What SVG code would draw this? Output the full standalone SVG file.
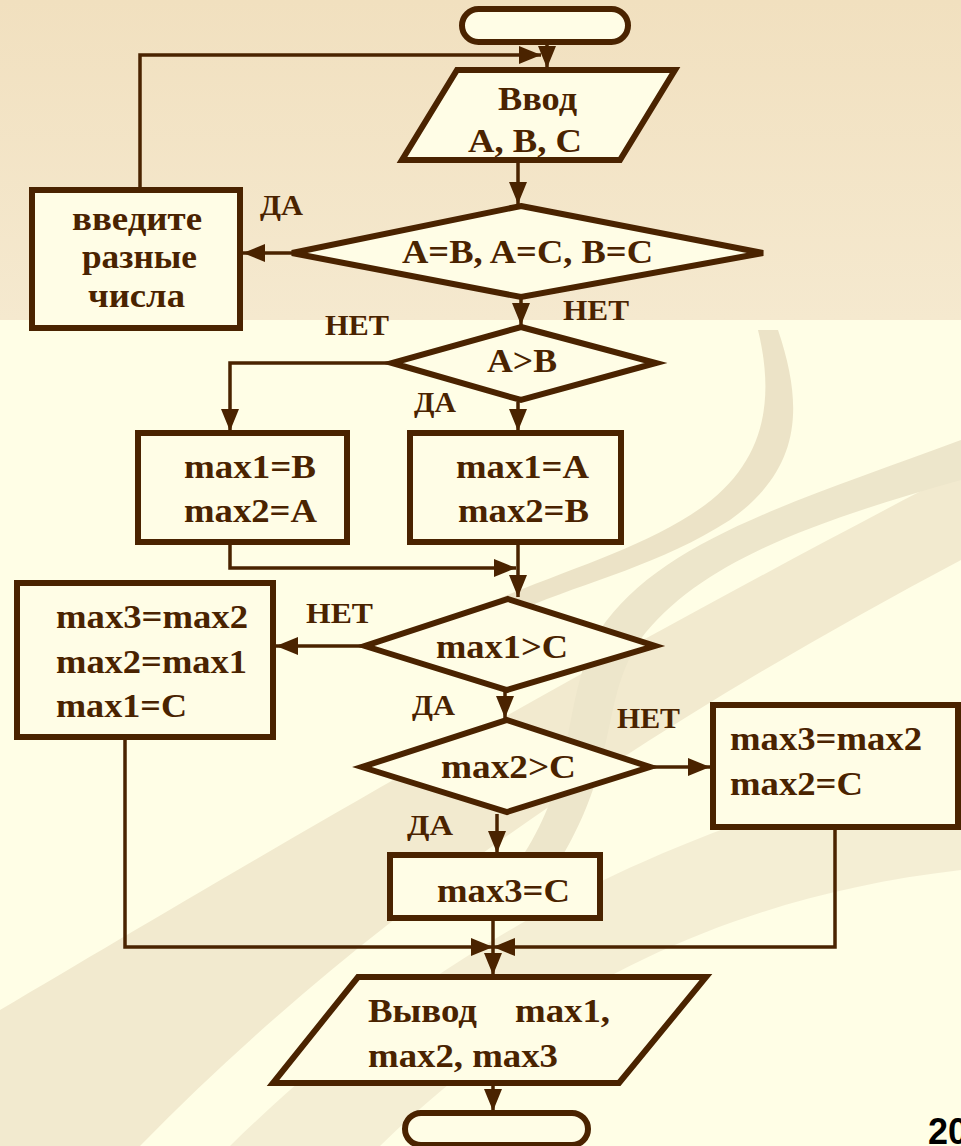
<svg xmlns="http://www.w3.org/2000/svg" width="961" height="1146" viewBox="0 0 961 1146">
<style>
.shape{fill:#fffde6;stroke:#4a2300;stroke-width:6;stroke-linejoin:miter}
.t{font-family:"Liberation Serif","Times New Roman",serif;font-weight:bold;font-size:34px;fill:#4a2300}
.lbl{font-family:"Liberation Serif","Times New Roman",serif;font-weight:bold;font-size:29px;fill:#4a2300}
.c{fill:none;stroke:#4a2300;stroke-width:3.5;marker-end:url(#ah)}
</style>
<defs>
<linearGradient id="topbg" x1="0" y1="0" x2="0" y2="1">
<stop offset="0" stop-color="#f1e0bf"/>
<stop offset="1" stop-color="#f5e9cf"/>
</linearGradient>
<marker id="ah" markerUnits="userSpaceOnUse" markerWidth="24" markerHeight="20" refX="22" refY="9" orient="auto">
<path d="M0,0 L22,9 L0,18 Z" fill="#4a2300"/>
</marker>
</defs>
<!-- background -->
<rect x="0" y="0" width="961" height="1146" fill="#fffee6"/>
<rect x="0" y="0" width="961" height="320" fill="url(#topbg)"/>
<g opacity="0.75">
<path d="M0,1146 L0,1010 C220,880 520,700 961,470 L961,560 C640,730 360,920 140,1146 Z" fill="#eee4c8"/>
<path d="M230,1146 C420,960 640,830 961,760 L961,870 C700,900 520,1010 380,1146 Z" fill="#f1e9cf"/>
<path d="M778,330 C805,410 800,470 730,520 C660,565 590,580 520,610 L500,598 C580,565 650,545 705,505 C765,460 775,400 758,330 Z" fill="#e6dbbd"/>
<path d="M961,480 C820,520 700,560 640,640 C600,700 620,760 560,860 L520,860 C580,770 560,700 600,630 C660,540 800,500 961,440 Z" fill="#e8dec2"/>
</g>
<!-- connectors -->
<g id="connectors">
<path class="c" d="M547,44 V68"/>
<path class="c" d="M140,188 V55 H541"/>
<path class="c" d="M518,162 V204"/>
<path class="c" d="M292,253 H243"/>
<path class="c" d="M521,299 V325"/>
<path class="c" d="M392,363 H230 V431"/>
<path class="c" d="M518,402 V431"/>
<path class="c" d="M230,544 V568 H516"/>
<path class="c" d="M518,544 V597"/>
<path class="c" d="M365,646 H276"/>
<path class="c" d="M505,692 V718"/>
<path class="c" d="M650,767 H710"/>
<path class="c" d="M497,814 V853"/>
<path class="c" d="M125,739 V947 H493"/>
<path class="c" d="M835,829 V947 H493"/>
<path class="c" d="M493,920 V975"/>
<path class="c" d="M493,1085 V1111"/>
</g>
<!-- nodes -->
<g id="start"><rect class="shape" x="462" y="9" width="166" height="33" rx="16.5"/></g>
<g id="input">
<polygon class="shape" points="457,70 675,70 620,160 402,160"/>
<text class="t" x="498" y="110" textLength="79" lengthAdjust="spacingAndGlyphs">Ввод</text>
<text class="t" x="468" y="152" textLength="114" lengthAdjust="spacingAndGlyphs">A, B, C</text>
</g>
<g id="cond-equal">
<polygon class="shape" points="521,206 763,253 521,297 292,253"/>
<text class="t" x="402" y="263" textLength="251" lengthAdjust="spacingAndGlyphs">A=B, A=C, B=C</text>
</g>
<g id="msg">
<rect class="shape" x="32" y="190" width="208" height="138"/>
<text class="t" x="72" y="230" textLength="130" lengthAdjust="spacingAndGlyphs">введите</text>
<text class="t" x="82" y="268" textLength="115" lengthAdjust="spacingAndGlyphs">разные</text>
<text class="t" x="88" y="307" textLength="97" lengthAdjust="spacingAndGlyphs">числа</text>
</g>
<g id="cond-ab">
<polygon class="shape" points="521,327 656,363 521,400 392,363"/>
<text class="t" x="487" y="372" textLength="70" lengthAdjust="spacingAndGlyphs">A&gt;B</text>
</g>
<g id="box-b">
<rect class="shape" x="138" y="433" width="209" height="109"/>
<text class="t" x="184" y="478" textLength="132" lengthAdjust="spacingAndGlyphs">max1=B</text>
<text class="t" x="184" y="522" textLength="133" lengthAdjust="spacingAndGlyphs">max2=A</text>
</g>
<g id="box-a">
<rect class="shape" x="410" y="433" width="211" height="109"/>
<text class="t" x="456" y="478" textLength="133" lengthAdjust="spacingAndGlyphs">max1=A</text>
<text class="t" x="458" y="522" textLength="131" lengthAdjust="spacingAndGlyphs">max2=B</text>
</g>
<g id="cond-max1">
<polygon class="shape" points="508,599 655,646 507,690 365,646"/>
<text class="t" x="436" y="658" textLength="132" lengthAdjust="spacingAndGlyphs">max1&gt;C</text>
</g>
<g id="box-shift">
<rect class="shape" x="17" y="583" width="256" height="154"/>
<text class="t" x="56" y="628" textLength="192" lengthAdjust="spacingAndGlyphs">max3=max2</text>
<text class="t" x="56" y="673" textLength="191" lengthAdjust="spacingAndGlyphs">max2=max1</text>
<text class="t" x="56" y="717" textLength="131" lengthAdjust="spacingAndGlyphs">max1=C</text>
</g>
<g id="cond-max2">
<polygon class="shape" points="507,720 650,767 507,812 362,767"/>
<text class="t" x="441" y="778" textLength="135" lengthAdjust="spacingAndGlyphs">max2&gt;C</text>
</g>
<g id="box-right">
<rect class="shape" x="713" y="705" width="245" height="122"/>
<text class="t" x="730" y="750" textLength="192" lengthAdjust="spacingAndGlyphs">max3=max2</text>
<text class="t" x="730" y="795" textLength="133" lengthAdjust="spacingAndGlyphs">max2=C</text>
</g>
<g id="box-max3">
<rect class="shape" x="390" y="855" width="210" height="63"/>
<text class="t" x="437" y="902" textLength="133" lengthAdjust="spacingAndGlyphs">max3=C</text>
</g>
<g id="output">
<polygon class="shape" points="358,977 706,977 619,1083 273,1083"/>
<text class="t" x="368" y="1022" textLength="109" lengthAdjust="spacingAndGlyphs">Вывод</text>
<text class="t" x="515" y="1022" textLength="95" lengthAdjust="spacingAndGlyphs">max1,</text>
<text class="t" x="368" y="1067" textLength="190" lengthAdjust="spacingAndGlyphs">max2, max3</text>
</g>
<g id="end"><rect class="shape" x="405" y="1113" width="183" height="32" rx="16"/></g>
<!-- labels -->
<g id="labels">
<text class="lbl" x="260" y="215" textLength="43" lengthAdjust="spacingAndGlyphs">ДА</text>
<text class="lbl" x="563" y="320" textLength="66" lengthAdjust="spacingAndGlyphs">НЕТ</text>
<text class="lbl" x="325" y="335" textLength="64" lengthAdjust="spacingAndGlyphs">НЕТ</text>
<text class="lbl" x="414" y="412" textLength="42" lengthAdjust="spacingAndGlyphs">ДА</text>
<text class="lbl" x="306" y="623" textLength="67" lengthAdjust="spacingAndGlyphs">НЕТ</text>
<text class="lbl" x="412" y="715" textLength="43" lengthAdjust="spacingAndGlyphs">ДА</text>
<text class="lbl" x="617" y="728" textLength="63" lengthAdjust="spacingAndGlyphs">НЕТ</text>
<text class="lbl" x="407" y="835" textLength="46" lengthAdjust="spacingAndGlyphs">ДА</text>
</g>
<text id="page-number" x="928" y="1144" font-family="Liberation Sans, Arial, sans-serif" font-weight="bold" font-size="36" fill="#000">20</text>
</svg>
